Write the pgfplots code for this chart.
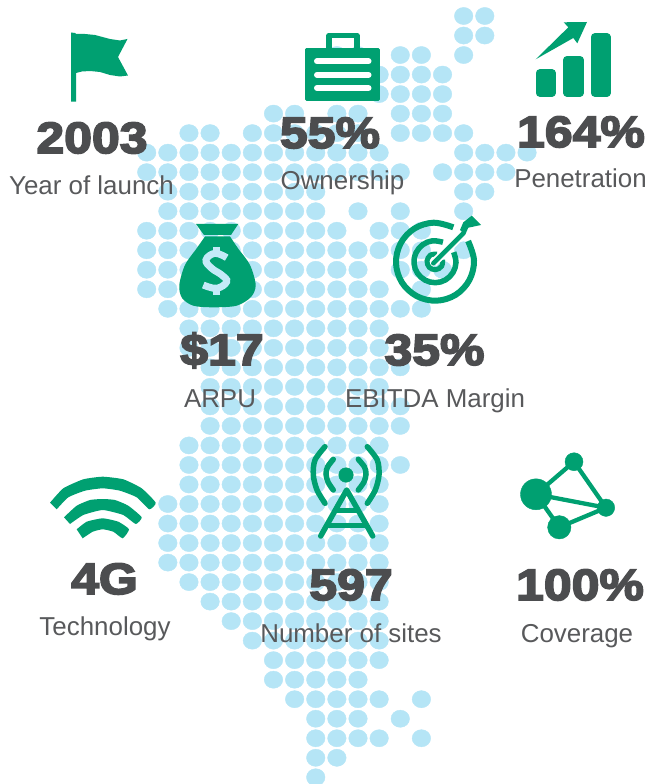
\documentclass[border=0pt]{standalone}
\usepackage{pgfplots}
\pgfplotsset{compat=1.18}
\usepackage{fontspec}
\setmainfont{Liberation Sans}
\newfontfamily\heavy[FakeStretch=1.14,FakeBold=4]{Liberation Sans Bold}

\definecolor{dot}{HTML}{B5E5F6}
\definecolor{icon}{HTML}{00A071}
\definecolor{numcol}{HTML}{4C4D4F}
\definecolor{labcol}{HTML}{58595B}

\newcommand{\num}[3]{\node[anchor=base,inner sep=0pt,text=numcol,font=\fontsize{44}{44}\selectfont\heavy] at (axis cs:#1,#2) {#3};}
\newcommand{\lab}[3]{\node[anchor=base,inner sep=0pt,text=labcol,font=\fontsize{26}{26}\selectfont] at (axis cs:#1,#2) {#3};}

\begin{document}
\begin{tikzpicture}
\useasboundingbox (0,0) rectangle (651bp,784bp);
% dot map, in grid units (column, row)
\begin{axis}[
    scale only axis, width=651bp, height=784bp,
    axis lines=none, ticks=none,
    y dir=reverse,
    xmin=-6.943, xmax=23.866, ymin=-0.820, ymax=39.344,
]
\addplot[only marks, mark=*, color=dot, mark size=8.6bp, mark options={xscale=1.08}] coordinates {
(15,0)(16,0)
(15,1)(16,1)
(9,2)(10,2)(12,2)(13,2)(15,2)
(11,3)(12,3)(13,3)(14,3)
(11,4)(12,4)(13,4)(14,4)
(6,5)(7,5)(9,5)(10,5)(12,5)(13,5)(14,5)
(2,6)(3,6)(5,6)(6,6)(7,6)(8,6)(9,6)(10,6)(12,6)(13,6)(14,6)(15,6)
(0,7)(1,7)(2,7)(3,7)(4,7)(5,7)(6,7)(7,7)(8,7)(9,7)(10,7)(11,7)(15,7)(16,7)(17,7)(18,7)
(0,8)(1,8)(2,8)(3,8)(4,8)(5,8)(6,8)(7,8)(8,8)(9,8)(10,8)(11,8)(12,8)(14,8)(15,8)(16,8)(17,8)
(1,9)(2,9)(3,9)(4,9)(5,9)(6,9)(7,9)(8,9)(15,9)(16,9)
(1,10)(2,10)(3,10)(4,10)(5,10)(6,10)(7,10)(8,10)(10,10)(12,10)(15,10)
(0,11)(1,11)(2,11)(3,11)(4,11)(5,11)(6,11)(7,11)(8,11)(9,11)(11,11)(12,11)(13,11)
(0,12)(1,12)(2,12)(3,12)(4,12)(5,12)(6,12)(7,12)(8,12)(9,12)(10,12)(11,12)(12,12)(13,12)(15,12)
(0,13)(1,13)(2,13)(3,13)(4,13)(5,13)(6,13)(7,13)(8,13)(9,13)(10,13)(12,13)(13,13)(14,13)
(0,14)(1,14)(2,14)(3,14)(4,14)(5,14)(6,14)(7,14)(8,14)(9,14)(10,14)(11,14)(13,14)
(1,15)(2,15)(3,15)(4,15)(5,15)(6,15)(7,15)(8,15)(9,15)(10,15)(11,15)(12,15)(13,15)
(2,16)(3,16)(4,16)(5,16)(6,16)(7,16)(8,16)(9,16)(10,16)(11,16)
(2,17)(3,17)(4,17)(5,17)(6,17)(7,17)(8,17)(9,17)(10,17)(11,17)
(3,18)(4,18)(5,18)(6,18)(7,18)(8,18)(9,18)(10,18)(11,18)(12,18)
(3,19)(4,19)(5,19)(6,19)(7,19)(8,19)(9,19)(10,19)(11,19)
(3,20)(4,20)(5,20)(6,20)(7,20)(8,20)(9,20)(10,20)(11,20)(12,20)
(3,21)(4,21)(5,21)(6,21)(7,21)(8,21)(9,21)(10,21)(11,21)(12,21)
(2,22)(3,22)(4,22)(5,22)(6,22)(7,22)(8,22)(9,22)(10,22)(11,22)
(2,23)(3,23)(4,23)(5,23)(6,23)(7,23)(8,23)(9,23)(10,23)(11,23)(12,23)
(2,24)(3,24)(4,24)(5,24)(6,24)(7,24)(8,24)(9,24)(10,24)(11,24)
(1,25)(2,25)(3,25)(4,25)(5,25)(6,25)(7,25)(8,25)(9,25)(10,25)(11,25)
(1,26)(2,26)(3,26)(4,26)(5,26)(6,26)(7,26)(8,26)(9,26)(10,26)(11,26)
(1,27)(2,27)(3,27)(4,27)(5,27)(6,27)(7,27)(8,27)(9,27)(10,27)(11,27)
(1,28)(2,28)(3,28)(4,28)(5,28)(6,28)(7,28)(8,28)(9,28)(10,28)(11,28)
(2,29)(3,29)(4,29)(5,29)(6,29)(7,29)(8,29)(9,29)(10,29)(11,29)
(3,30)(4,30)(5,30)(6,30)(7,30)(8,30)(9,30)(10,30)(11,30)
(4,31)(5,31)(6,31)(7,31)(8,31)(9,31)(10,31)(11,31)
(5,32)(6,32)(7,32)(8,32)(9,32)(10,32)(11,32)
(6,33)(7,33)(8,33)(9,33)(10,33)(11,33)
(6,34)(7,34)(8,34)(9,34)(10,34)
(7,35)(8,35)(9,35)(10,35)(11,35)(13,35)
(8,36)(9,36)(10,36)(12,36)
(8,37)(9,37)(10,37)(11,37)(13,37)
(8,38)(9,38)
(8,39)
};
\end{axis}

% icons and text, in pixel coordinates of the picture
\begin{axis}[
    scale only axis, width=651bp, height=784bp,
    axis lines=none, ticks=none,
    y dir=reverse,
    xmin=0, xmax=651, ymin=0, ymax=784,
    every axis plot/.append style={no markers},
]
% flag
\addplot[fill=icon, draw=none] coordinates {(71,32.5)(75,33)(76,34)(85,34)(95,35)(110,39)(120,40.5)(127.5,39)(118,57)(128,75.5)(120,76.5)(110,75)(100,72)(90,71)(82,71.5)(76,73)(76,101.7)(71,101.7)} -- cycle;

% briefcase
\addplot[draw=icon, line width=5.5bp, line join=round] coordinates {(329,48)(329,35.5)(357,35.5)(357,48)};
\addplot[fill=icon, draw=icon, line width=3bp, line join=round] coordinates {(306.5,49.8)(378.5,49.8)(378.5,99.2)(306.5,99.2)} -- cycle;
\addplot[white, line width=6bp, line cap=round] coordinates {(317,61.3)(368.5,61.3)};
\addplot[white, line width=6bp, line cap=round] coordinates {(317,74.8)(368.5,74.8)};
\addplot[white, line width=6bp, line cap=round] coordinates {(317,88)(368.5,88)};

% bars and arrow
\addplot[fill=icon, draw=icon, line width=8bp, line join=round] coordinates {(539.7,73.3)(552,73.3)(552,92.7)(539.7,92.7)} -- cycle;
\addplot[fill=icon, draw=icon, line width=8bp, line join=round] coordinates {(567,60)(580,60)(580,92.7)(567,92.7)} -- cycle;
\addplot[fill=icon, draw=icon, line width=8bp, line join=round] coordinates {(594.7,37.3)(606.7,37.3)(606.7,92.7)(594.7,92.7)} -- cycle;
\addplot[fill=icon, draw=none] coordinates {(535.7,59.3)(568.3,27.3)(563.7,22.3)(587,22)(577.3,43.3)(573.3,38)} -- cycle;

% money bag
\addplot[fill=icon, draw=none, line join=round] coordinates {(196,224)(238.3,224)(231,235)(204,235)} -- cycle;
\addplot[fill=icon, draw=none, smooth, tension=0.5] coordinates {(205,236.5)(196.7,248.3)(185,265)(179.3,285)(182,298)(193.3,305.7)(213.3,307.3)(236.7,305.7)(251,297)(255.7,285)(250,265)(238,248.3)(230,236.5)} -- cycle;
\addplot[draw=dot!80!white, line width=7bp, smooth, tension=0.7] coordinates {(226.7,257.7)(215,253.3)(206,260)(211.7,268.3)(221.7,275)(226.7,281.7)(216.7,288.3)(203.3,285)};
\addplot[draw=dot!80!white, line width=7bp] coordinates {(216.7,247)(216.7,255)};
\addplot[draw=dot!80!white, line width=7bp] coordinates {(216.7,287)(216.7,295)};

% target
\addplot[draw=icon, line width=6bp, smooth, tension=0.6] coordinates {(453.3,227.3)(433.6,222.7)(414.3,228.6)(400.6,243.4)(396,263.1)(401.9,282.4)(416.7,296.1)(436.4,300.7)(455.7,294.8)(469.4,280)(474,260.3)(468.1,241)};
\addplot[draw=icon, line width=5.5bp, smooth, tension=0.6] coordinates {(442.9,242.2)(432.4,240.8)(422.7,244.7)(416,252.8)(414,263.2)(417.4,273.1)(425.2,280.2)(435.4,282.7)(445.5,279.9)(453,272.5)(456,262.4)(453.7,252.2)};
\addplot[draw=icon, line width=5bp, smooth, tension=0.6] coordinates {(437.1,254)(430.4,255.1)(427,261)(429.3,267.4)(435.7,269.7)(441.6,266.3)(442.7,259.6)};
\addplot[draw=white, line width=8bp] coordinates {(433.3,263.3)(463.3,233.3)};
\addplot[draw=icon, line width=4.5bp, line cap=round] coordinates {(433.3,263.3)(463.3,233.3)};
\addplot[fill=icon, draw=none] coordinates {(471.7,215.7)(481,225)(468.3,227.7)(465,235)(460,230)(463.3,222.3)} -- cycle;

% wifi
\addplot[fill=icon, draw=none, smooth, tension=0.3] coordinates {(50,502.7)(63.3,488.3)(83.3,479.3)(102.7,476.7)(123.3,479.3)(141.7,488.3)(155.7,502.7)(149.3,509.3)(136.7,497.3)(120,490.7)(102.7,488.3)(85,490.7)(68.3,497.3)(56.7,509.3)} -- cycle;
\addplot[fill=icon, draw=none, smooth, tension=0.3] coordinates {(64,517.3)(76.7,505.7)(90,500)(102.7,499)(115,500)(128.3,505.7)(141.7,517.3)(135.7,524)(123.3,515)(102.7,510)(83.3,515)(70,524)} -- cycle;
\addplot[fill=icon, draw=none, smooth, tension=0.3] coordinates {(76.7,529.3)(86.7,521.7)(102.7,518.3)(118.3,521.7)(129,529.3)(122.7,538.3)(113.3,531.7)(102.7,529.3)(92.7,531.7)(82.7,538.3)} -- cycle;

% tower
\addplot[draw=icon, line width=5.5bp, line cap=round, line join=round] coordinates {(320.7,536)(346.7,490)(372.7,536)};
\addplot[draw=icon, line width=5bp] coordinates {(335,510)(358.3,510)};
\addplot[draw=icon, line width=5bp] coordinates {(326.7,525)(366.7,525)};
\addplot[draw=icon, line width=5.5bp, line cap=round, smooth] coordinates {(325,446.7)(315,460)(313.3,475)(317,490)(325,503.3)};
\addplot[draw=icon, line width=5.5bp, line cap=round, smooth] coordinates {(367.3,446.7)(377.3,460)(379,475)(375.3,490)(367.3,503.3)};
\addplot[draw=icon, line width=5.5bp, line cap=round, smooth] coordinates {(333.3,459.3)(327.5,467)(326,474)(328,482)(333.3,490)};
\addplot[draw=icon, line width=5.5bp, line cap=round, smooth] coordinates {(358.3,459.3)(364.5,467)(366,474)(364,482)(358.3,490)};
\addplot[only marks, mark=*, color=icon, mark size=7.3bp] coordinates {(346,475)};

% network
\addplot[draw=icon, line width=4.3bp, line join=round] coordinates {(536,494.3)(574,461.7)(606,507.7)(536,494.3)(559.3,527.3)(606,507.7)};
\addplot[only marks, mark=*, color=icon, mark size=15.5bp] coordinates {(536,494.3)};
\addplot[only marks, mark=*, color=icon, mark size=9bp] coordinates {(574,461.7)};
\addplot[only marks, mark=*, color=icon, mark size=8.7bp] coordinates {(606,507.7)};
\addplot[only marks, mark=*, color=icon, mark size=11.7bp] coordinates {(559.3,527.3)};

% figures
\num{92}{153}{2003}
\num{330}{148}{55\%}
\num{581}{147}{164\%}
\num{222}{365}{\$17}
\num{434.5}{365}{35\%}
\num{104.5}{594}{4G}
\num{351}{600}{597}
\num{580}{600}{100\%}
% captions
\lab{91.5}{195}{Year of launch}
\lab{342.5}{190}{Ownership}
\lab{580.5}{188}{Penetration}
\lab{220}{407}{ARPU}
\lab{435}{407}{EBITDA Margin}
\lab{105}{635}{Technology}
\lab{351}{642}{Number of sites}
\lab{577}{642}{Coverage}
\end{axis}
\end{tikzpicture}
\end{document}
